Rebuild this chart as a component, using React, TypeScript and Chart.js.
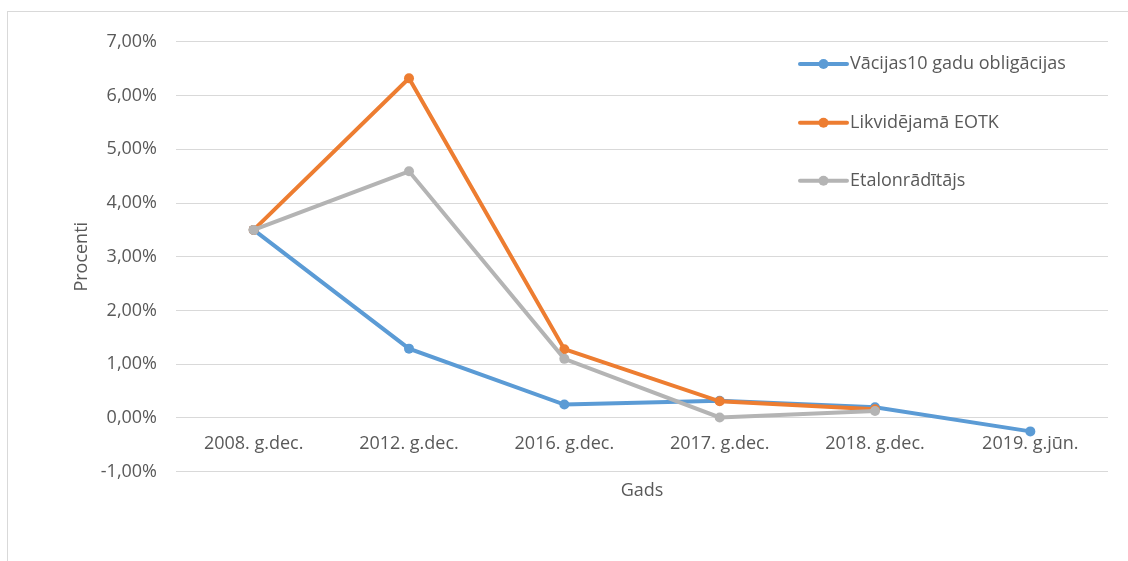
import React, { useEffect, useRef } from "react";
import { Chart, registerables } from "chart.js";

Chart.register(...registerables);

const categories = ["2008. g.dec.", "2012. g.dec.", "2016. g.dec.", "2017. g.dec.", "2018. g.dec.", "2019. g.jūn."];
const germanBonds = [3.5, 1.29, 0.25, 0.32, 0.2, -0.25];
const liquidatedFund = [3.5, 6.32, 1.28, 0.31, 0.16, null];
const benchmark = [3.5, 4.59, 1.1, 0.01, 0.13, null];
const seriesNames = ["Vācijas10 gadu obligācijas", "Likvidējamā EOTK", "Etalonrādītājs"];
const seriesColors = ["#5B9BD5", "#ED7D31", "#B4B4B4"];
const yMin = -1;
const yMax = 7;
const yStep = 1;
const xTitle = "Gads";
const yTitle = "Procenti";

const FONT = "'Open Sans', 'Noto Sans', sans-serif";
const TEXT = "#595959";

const formatPct = (v: number) => v.toFixed(2).replace(".", ",") + "%";

const overlayPlugin = {
  id: "overlay",
  afterDraw(chart: any) {
    const ctx = chart.ctx;
    const area = chart.chartArea;
    ctx.save();
    // x axis title
    ctx.fillStyle = TEXT;
    ctx.font = `18px ${FONT}`;
    ctx.textAlign = "center";
    ctx.textBaseline = "middle";
    ctx.fillText(xTitle, (area.left + area.right) / 2, 478.7);
    // legend
    const legendX = 792;
    const legendYs = [52, 110.7, 168.7];
    chart.data.datasets.forEach((ds: any, i: number) => {
      const y = legendYs[i];
      ctx.strokeStyle = ds.borderColor;
      ctx.lineWidth = 4;
      ctx.lineCap = "round";
      ctx.beginPath();
      ctx.moveTo(legendX, y);
      ctx.lineTo(legendX + 47, y);
      ctx.stroke();
      ctx.fillStyle = ds.borderColor;
      ctx.beginPath();
      ctx.arc(legendX + 23.5, y, 5, 0, Math.PI * 2);
      ctx.fill();
      ctx.fillStyle = TEXT;
      ctx.textAlign = "left";
      ctx.textBaseline = "middle";
      ctx.fillText(ds.label, legendX + 50, y);
    });
    ctx.restore();
  },
};

export default function App() {
  const canvasRef = useRef<HTMLCanvasElement | null>(null);

  useEffect(() => {
    if (!canvasRef.current) return;
    const mk = (i: number, data: (number | null)[]) => ({
      label: seriesNames[i],
      data,
      borderColor: seriesColors[i],
      backgroundColor: seriesColors[i],
      borderWidth: 4,
      pointRadius: 5,
      pointHoverRadius: 5,
      pointBorderWidth: 0,
      tension: 0,
      spanGaps: false,
      order: 2 - i,
    });
    const chart = new Chart(canvasRef.current, {
      type: "line",
      data: {
        labels: categories,
        datasets: [mk(0, germanBonds), mk(1, liquidatedFund), mk(2, benchmark)],
      },
      options: {
        animation: false,
        responsive: true,
        maintainAspectRatio: false,
        layout: { padding: { left: 0, right: 20, top: 29, bottom: 89.3 } },
        plugins: {
          legend: { display: false },
          tooltip: { enabled: false },
        },
        scales: {
          x: {
            type: "category",
            position: { y: 0 } as any,
            offset: true,
            grid: { display: false, drawTicks: false },
            border: { display: false },
            ticks: {
              color: TEXT,
              font: { family: FONT, size: 18 },
              padding: 15,
              maxRotation: 0,
              autoSkip: false,
            },
          },
          y: {
            min: yMin,
            max: yMax,
            afterFit(scale: any) {
              scale.width = 168;
            },
            grid: { color: "#D9D9D9", lineWidth: 1, drawTicks: false },
            border: { display: false },
            ticks: {
              stepSize: yStep,
              color: TEXT,
              font: { family: FONT, size: 18 },
              padding: 19,
              callback: (v: any) => formatPct(Number(v)),
            },
            title: {
              display: true,
              text: yTitle,
              color: TEXT,
              font: { family: FONT, size: 18 },
              padding: { top: 63, bottom: 0 },
            },
          },
        },
      },
      plugins: [overlayPlugin],
    });
    return () => chart.destroy();
  }, []);

  return (
    <div style={{ position: "fixed", left: 0, top: 0, width: 1128, height: 561, overflow: "hidden", background: "#fff" }}>
      <div
        style={{
          position: "absolute",
          left: 7,
          top: 11,
          width: 1140,
          height: 570,
          border: "1px solid #D9D9D9",
          boxSizing: "border-box",
        }}
      />
      <div style={{ position: "absolute", left: 8, top: 12, width: 1120, height: 549 }}>
        <canvas ref={canvasRef} />
      </div>
    </div>
  );
}
